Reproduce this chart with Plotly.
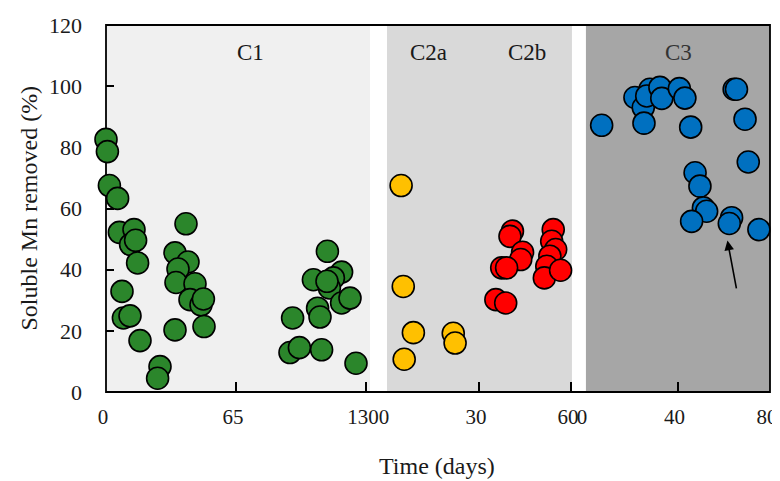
import plotly.graph_objects as go

# ---------------- data ----------------
c1_days = [0, 0.7, 1.7, 5.8, 6.7, 14, 12.3, 14.8, 15.8, 8, 8.7, 12, 17, 27, 25.8,
           40, 34.5, 41, 36, 35, 44.5, 42, 47.5, 48.7, 49, 34.5,
           110.7, 103.7, 117.8, 113.7, 111.7, 110.5, 105.8, 107, 117.8, 122, 93.3,
           92, 96.7, 107.8, 125]
c1_vals = [82.6, 78.6, 67.5, 63.3, 52.2, 53.1, 48.2, 49.6, 42.2, 32.9, 24.2, 24.9, 16.8, 8.3, 4.5,
           55, 45.5, 42.5, 40.2, 35.8, 35.4, 30.2, 28.5, 30.4, 21.4, 20.3,
           46, 36.7, 39.2, 37.3, 34, 36.2, 27.4, 24.5, 29.1, 30.7, 24.2,
           12.9, 14.5, 13.8, 9.4]

c2a_days = [4.6, 5.3, 8.6, 5.6, 21.6, 22.2]
c2a_vals = [67.5, 34.5, 19.4, 10.7, 19.2, 16]

c2b_days = [40.9, 40.1, 44.2, 43.6, 37.4, 39, 35.5, 38.7, 54.2, 53.7, 55, 53.1, 52.1, 51.3, 56.6]
c2b_vals = [52.6, 50.9, 45.7, 43.3, 40.6, 40.6, 30.2, 29.1, 53.1, 49.3, 46.6, 44.4, 41.1, 37.3, 39.8]

c3_days = [7.2, 21.6, 25.2, 28.1, 26.7, 32.4, 33.2, 25.5, 40.8, 43.2, 45.7, 64.5, 65.5,
           69.2, 70.6, 47.6, 49.7, 51.2, 52.6, 46.1, 63.4, 62.4, 75.2]
c3_vals = [87.2, 96.3, 93, 99, 96.8, 99.6, 96, 87.9, 99.2, 96.1, 86.6, 99, 99,
           89.2, 75.2, 71.7, 67.3, 60.2, 59.1, 55.8, 57, 55.1, 53.1]

c1_ticks = [0, 65, 130]
c2_ticks = [0, 30, 60]
c3_ticks = [0, 40, 80]
y_ticks = [0, 20, 40, 60, 80, 100, 120]

FONT = "Liberation Serif, Times New Roman, serif"
TXT = "#1a1a1a"

fig = go.Figure()

def add(days, vals, color, xa, name):
    fig.add_trace(go.Scatter(
        x=days, y=vals, mode="markers", name=name, xaxis=xa, yaxis="y",
        cliponaxis=False,
        marker=dict(size=22, color=color, line=dict(color="black", width=1.6)),
        showlegend=False))

add(c1_days, c1_vals, "#2b862b", "x", "C1")
add(c2a_days, c2a_vals, "#FFC000", "x2", "C2a")
add(c2b_days, c2b_vals, "#FF0000", "x2", "C2b")
add(c3_days, c3_vals, "#0070C0", "x3", "C3")

# page body has an 8px offset; figure sized to fill the rest of the window
OFF = 8
W, H = 780 - OFF, 481 - OFF
L, T, B = 106 - OFF, 25 - OFF, 89
R = W - (770 - OFF)
pw = W - L - R
ph = H - T - B
d1 = (387 - 106) / pw
d2 = (585 - 106) / pw

xcommon = dict(ticks="inside", ticklen=10, tickwidth=1.5, tickcolor="black",
               showline=False, showgrid=False, zeroline=False, anchor="y",
               tickfont=dict(family=FONT, size=21, color=TXT),
               ticklabelstandoff=10, ticklabeloverflow="allow", ticklabelshift=-3,
               layer="below traces", automargin=False)

fig.update_layout(
    width=W, height=H,
    margin=dict(l=L, r=R, t=T, b=B, autoexpand=False),
    paper_bgcolor="white", plot_bgcolor="white",
    xaxis=dict(domain=[0, d1], range=[0, (387 - 106) / 2.0], tickvals=c1_ticks, **xcommon),
    xaxis2=dict(domain=[d1, d2], range=[0, (585 - 387) / 3.067], tickvals=c2_ticks, **xcommon),
    xaxis3=dict(domain=[d2, 1], range=[0, 80], tickvals=c3_ticks, **xcommon),
    yaxis=dict(range=[0, 120], tickvals=y_ticks, ticks="inside", ticklen=8, tickwidth=1.5,
               tickcolor="black", showline=False, showgrid=False, zeroline=False,
               anchor="x", tickfont=dict(family=FONT, size=22, color=TXT),
               ticklabelstandoff=23, ticklabeloverflow="allow",
               layer="below traces", automargin=False),
    shapes=[
        dict(type="rect", xref="x", yref="paper", x0=-10, x1=132, y0=0, y1=1,
             fillcolor="#f0f0f0", line=dict(width=0), layer="below"),
        dict(type="rect", xref="x2", yref="paper", x0=0, x1=60.3, y0=0, y1=1,
             fillcolor="#d9d9d9", line=dict(width=0), layer="below"),
        dict(type="rect", xref="x3", yref="paper", x0=0.4, x1=80, y0=0, y1=1,
             fillcolor="#a6a6a6", line=dict(width=0), layer="below"),
        dict(type="rect", xref="paper", yref="paper", x0=0, x1=1, y0=0, y1=1,
             fillcolor="rgba(0,0,0,0)", line=dict(color="black", width=1.8), layer="below"),
    ],
    annotations=[
        dict(text="C1", x=72, y=111, xref="x", yref="y", showarrow=False,
             font=dict(family=FONT, size=23, color=TXT)),
        dict(text="C2a", x=13.4, y=111, xref="x2", yref="y", showarrow=False,
             font=dict(family=FONT, size=23, color=TXT)),
        dict(text="C2b", x=45.6, y=111, xref="x2", yref="y", showarrow=False,
             font=dict(family=FONT, size=23, color=TXT)),
        dict(text="C3", x=40.6, y=111, xref="x3", yref="y", showarrow=False,
             font=dict(family=FONT, size=23, color="#333333")),
        dict(text="", x=61.6, y=49.5, xref="x3", yref="y", ax=65.6, ay=33.4,
             axref="x3", ayref="y", showarrow=True, arrowhead=2, arrowsize=1.2,
             arrowwidth=1.6, arrowcolor="black"),
        dict(text="Soluble Mn removed (%)", x=(28 - 106) / pw, y=0.5, xref="paper", yref="paper",
             textangle=-90, showarrow=False, xanchor="center", yanchor="middle",
             font=dict(family=FONT, size=24, color=TXT)),
        dict(text="Time (days)", x=(437 - 106) / pw, y=(392 - 466) / ph, xref="paper",
             yref="paper", showarrow=False, xanchor="center", yanchor="middle",
             font=dict(family=FONT, size=24, color=TXT)),
    ],
)

fig.write_html("out.html")
